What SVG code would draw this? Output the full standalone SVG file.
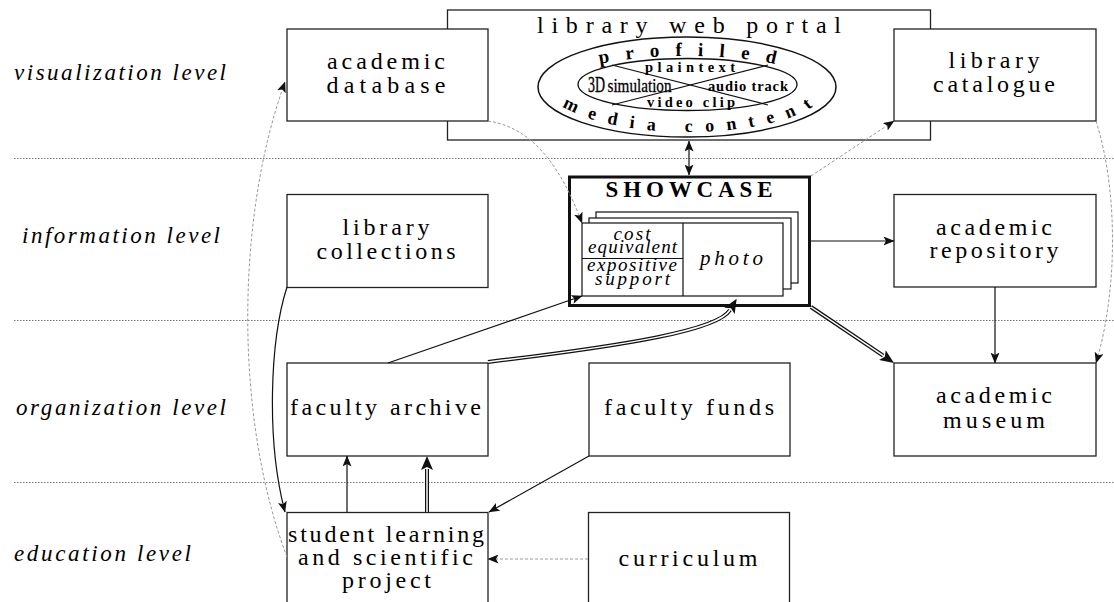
<svg xmlns="http://www.w3.org/2000/svg" width="1114" height="602" viewBox="0 0 1114 602" font-family="Liberation Serif, serif">
<style>
text{font-family:"Liberation Serif","Times New Roman",serif}
.box{fill:#fff;stroke:#222;stroke-width:1.3}
.t{font-size:24px;fill:#000;text-anchor:middle}
.lvl{font-size:23px;font-style:italic;fill:#000}
.sep{stroke:#777;stroke-width:1;stroke-dasharray:1.5 1.5}
.c{fill:none;stroke:#111;stroke-width:1.2}
.d{fill:none;stroke:#999;stroke-width:1;stroke-dasharray:3 2}
.dbl{fill:none;stroke:#111;stroke-width:4}
.dblw{fill:none;stroke:#fff;stroke-width:1.5}
.b{font-weight:bold;fill:#000}
.r{fill:#000}
.it{font-style:italic;fill:#000;text-anchor:middle}
</style>
<defs>
<marker id="ah" markerUnits="userSpaceOnUse" markerWidth="11" markerHeight="9" viewBox="0 0 11 9" refX="10.5" refY="4.5" orient="auto-start-reverse"><path d="M0,0 L11,4.5 L0,9 L2.5,4.5 z" fill="#111"/></marker>
<marker id="ahd" markerUnits="userSpaceOnUse" markerWidth="14" markerHeight="12" viewBox="0 0 14 12" refX="1" refY="6" orient="auto"><path d="M0,0 L14,6 L0,12 L3,6 z" fill="#111"/></marker>
<path id="topArc" d="M 557 87 A 130 31 0 0 1 817 87"/>
<path id="botArc" d="M 550 87 A 138 45 0 0 0 826 87"/>
</defs>

<g id="levels">
<line class="sep" x1="14" y1="158.5" x2="1114" y2="158.5"/>
<line class="sep" x1="14" y1="320.5" x2="1114" y2="320.5"/>
<line class="sep" x1="14" y1="482.5" x2="1114" y2="482.5"/>
<text class="lvl" x="14" y="80" textLength="212" lengthAdjust="spacing">visualization level</text>
<text class="lvl" x="22" y="243" textLength="198" lengthAdjust="spacing">information level</text>
<text class="lvl" x="16" y="415" textLength="210" lengthAdjust="spacing">organization level</text>
<text class="lvl" x="14" y="561" textLength="177" lengthAdjust="spacing">education level</text>
</g>

<g id="portal">
<rect class="box" x="447.5" y="10" width="483" height="130"/>
<text class="t" x="689" y="33" font-size="26" textLength="304" lengthAdjust="spacing">library web portal</text>
<ellipse cx="687" cy="87" rx="149" ry="50" fill="none" stroke="#111" stroke-width="1.5"/>
<ellipse cx="687.5" cy="84.5" rx="109.5" ry="26" fill="none" stroke="#111" stroke-width="1.3"/>
<line x1="612" y1="65" x2="768" y2="105" stroke="#111" stroke-width="1.2"/>
<line x1="612" y1="105" x2="768" y2="65" stroke="#111" stroke-width="1.2"/>
<text class="b" font-size="19" letter-spacing="16" text-anchor="middle"><textPath href="#topArc" startOffset="147">profiled</textPath></text>
<text class="b" font-size="18" letter-spacing="12.5" text-anchor="middle"><textPath href="#botArc" startOffset="159">media content</textPath></text>
<text class="b" x="690" y="72" font-size="14.5" text-anchor="middle" textLength="90" lengthAdjust="spacing">plaintext</text>
<text class="b" x="691" y="106.5" font-size="14.5" text-anchor="middle" textLength="88" lengthAdjust="spacing">video clip</text>
<text class="r" x="588" y="92" font-size="24" textLength="17" lengthAdjust="spacingAndGlyphs" stroke="#000" stroke-width="0.4">3D</text>
<text class="r" x="607.5" y="92" font-size="18" textLength="64" lengthAdjust="spacingAndGlyphs" stroke="#000" stroke-width="0.3">simulation</text>
<text class="b" x="708" y="91" font-size="14.5" textLength="80" lengthAdjust="spacing">audio track</text>
</g>

<g id="academic-database">
<rect class="box" x="287" y="29" width="201" height="92"/>
<text class="t" x="386" y="69" textLength="118" lengthAdjust="spacing">academic</text>
<text class="t" x="386" y="93" textLength="119" lengthAdjust="spacing">database</text>
</g>

<g id="library-catalogue">
<rect class="box" x="894" y="29" width="202" height="92"/>
<text class="t" x="994" y="68" textLength="91" lengthAdjust="spacing">library</text>
<text class="t" x="994" y="92" textLength="122" lengthAdjust="spacing">catalogue</text>
</g>

<g id="library-collections">
<rect class="box" x="287" y="194.5" width="201" height="93"/>
<text class="t" x="386" y="235" textLength="87" lengthAdjust="spacing">library</text>
<text class="t" x="386" y="259" textLength="139" lengthAdjust="spacing">collections</text>
</g>

<g id="showcase">
<rect x="569.5" y="177" width="240" height="128.5" fill="#fff" stroke="#111" stroke-width="3"/>
<text class="b" x="689" y="197" font-size="23" text-anchor="middle" textLength="167" lengthAdjust="spacing">SHOWCASE</text>
<rect x="596" y="212" width="202" height="71" fill="#fff" stroke="#111" stroke-width="1.2"/>
<rect x="589" y="218" width="202" height="71" fill="#fff" stroke="#111" stroke-width="1.2"/>
<rect x="582" y="223" width="201" height="73" fill="#fff" stroke="#111" stroke-width="1.2"/>
<line x1="683" y1="223" x2="683" y2="296" stroke="#111" stroke-width="1.2"/>
<line x1="582" y1="258.5" x2="683" y2="258.5" stroke="#111" stroke-width="1.2"/>
<text class="it" x="632" y="240" font-size="19" textLength="37" lengthAdjust="spacing">cost</text>
<text class="it" x="632.5" y="253" font-size="19" textLength="89" lengthAdjust="spacing">equivalent</text>
<text class="it" x="632" y="271" font-size="19" textLength="90" lengthAdjust="spacing">expositive</text>
<text class="it" x="632.5" y="285" font-size="19" textLength="75" lengthAdjust="spacing">support</text>
<text class="it" x="731.5" y="265" font-size="21" textLength="63" lengthAdjust="spacing">photo</text>
</g>

<g id="academic-repository">
<rect class="box" x="894" y="194.5" width="202" height="92.5"/>
<text class="t" x="994" y="235" textLength="116" lengthAdjust="spacing">academic</text>
<text class="t" x="994" y="258" textLength="129" lengthAdjust="spacing">repository</text>
</g>

<g id="faculty-archive">
<rect class="box" x="287" y="363" width="201" height="93"/>
<text class="t" x="385.5" y="415" textLength="191" lengthAdjust="spacing">faculty archive</text>
</g>

<g id="faculty-funds">
<rect class="box" x="589" y="363" width="201" height="93"/>
<text class="t" x="689" y="415" textLength="170" lengthAdjust="spacing">faculty funds</text>
</g>

<g id="academic-museum">
<rect class="box" x="894" y="363" width="202" height="93"/>
<text class="t" x="994" y="403" textLength="116" lengthAdjust="spacing">academic</text>
<text class="t" x="994" y="428" textLength="102" lengthAdjust="spacing">museum</text>
</g>

<g id="student-project">
<rect class="box" x="287" y="512.5" width="201" height="93"/>
<text class="t" x="386" y="542" textLength="196" lengthAdjust="spacing">student learning</text>
<text class="t" x="385.5" y="565" textLength="175" lengthAdjust="spacing">and scientific</text>
<text class="t" x="386.5" y="588" textLength="89" lengthAdjust="spacing">project</text>
</g>

<g id="curriculum">
<rect class="box" x="588.5" y="512.5" width="201" height="93"/>
<text class="t" x="688" y="566" textLength="139" lengthAdjust="spacing">curriculum</text>
</g>

<g id="connectors">
<path class="c" d="M 689 141 L 689 175" marker-start="url(#ah)" marker-end="url(#ah)"/>
<path class="c" d="M 811 241 L 894 241" marker-end="url(#ah)"/>
<path class="c" d="M 995 287 L 995 363" marker-end="url(#ah)"/>
<path class="c" d="M 388 363 L 582 296" marker-end="url(#ah)"/>
<path class="c" d="M 287 287 C 270 340, 266 440, 285 512" marker-end="url(#ah)"/>
<path class="c" d="M 347 512 L 347 456" marker-end="url(#ah)"/>
<path class="c" d="M 589 456 L 489 512" marker-end="url(#ah)"/>
<path class="d" d="M 488 121 C 535 128, 562 170, 582 223" marker-end="url(#ah)"/>
<path class="d" d="M 811 176 L 894 121" marker-end="url(#ah)"/>
<path class="d" d="M 1096 121 C 1118 190, 1118 290, 1096 363" marker-end="url(#ah)"/>
<path class="d" d="M 287 557 C 235 420, 235 220, 285 82" marker-end="url(#ah)"/>
<path class="d" d="M 588 559 L 488 559" marker-end="url(#ah)"/>
<path class="dbl" d="M 811 307 L 883.2 355.7" marker-end="url(#ahd)"/>
<path class="dblw" d="M 811 307 L 883.2 355.7"/>
<path class="dbl" d="M 427 512 L 427 469" marker-end="url(#ahd)"/>
<path class="dblw" d="M 427 512 L 427 469"/>
<path class="dbl" d="M 488 362 C 630 345, 718 330, 730 310" marker-end="url(#ahd)"/>
<path class="dblw" d="M 488 362 C 630 345, 718 330, 730 310"/>
</g>
</svg>
